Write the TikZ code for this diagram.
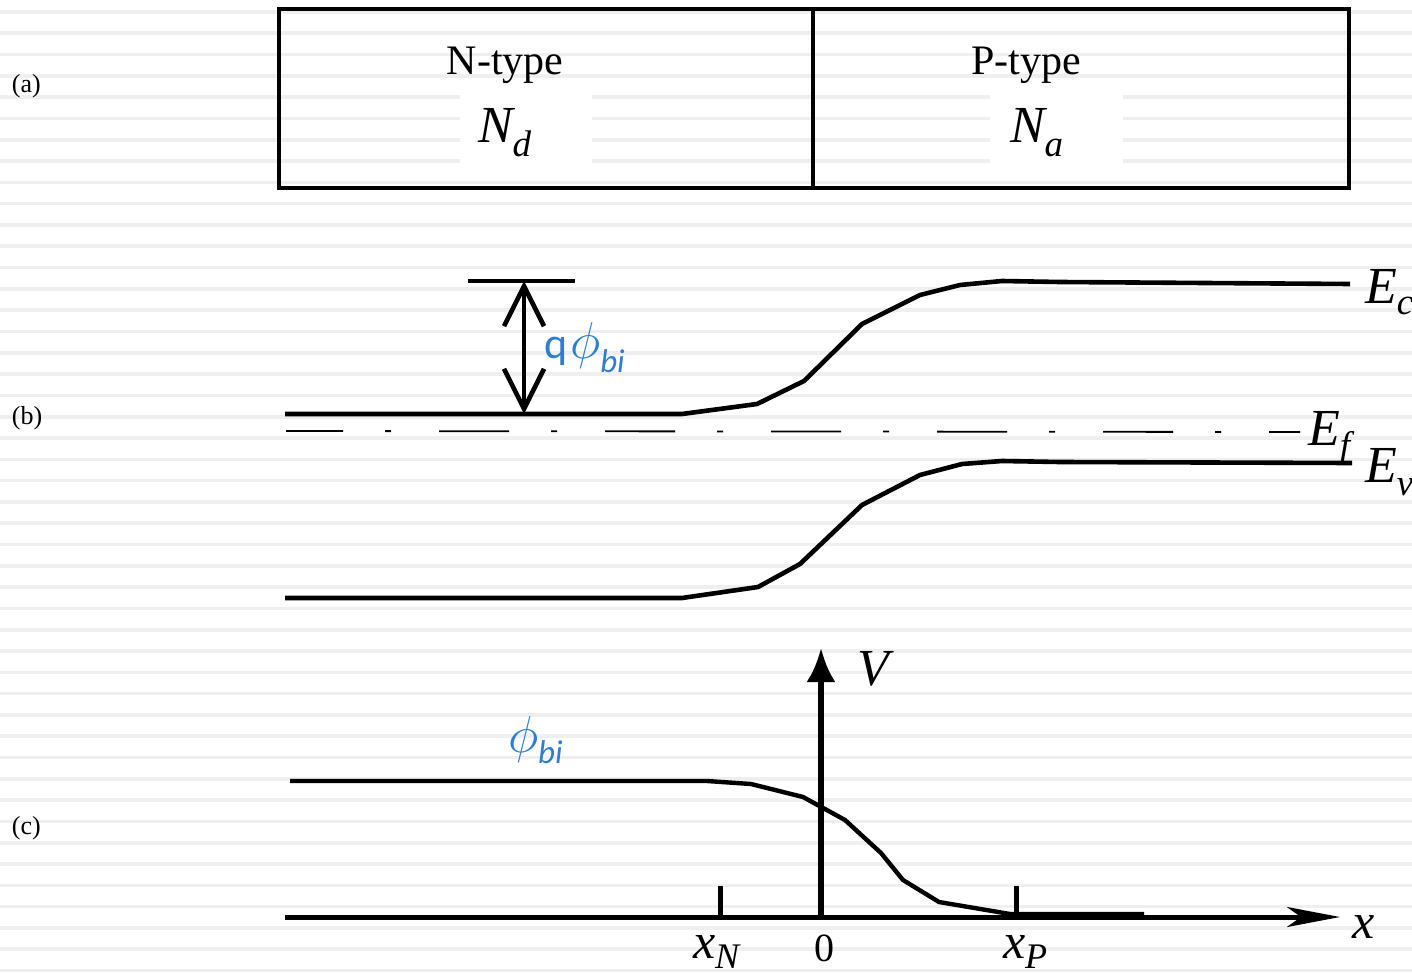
\RequirePackage{fix-cm}
\documentclass[tikz,border=0pt]{standalone}
\usepackage{fontspec}
\setmainfont{Liberation Serif}
\newfontfamily\calib{Carlito}
\usetikzlibrary{arrows.meta}
\definecolor{phblue}{RGB}{45,125,210}
\definecolor{stripecol}{RGB}{239,239,239}
\newcommand\fs[1]{\fontsize{#1}{#1}\selectfont}
% #1 main size, #2 sub size, #3 main letter, #4 subscript, #5 drop
\newcommand\isub[5]{{\fs{#1}\itshape #3\raisebox{-#5}{\fs{#2}#4}}}
\tikzset{
  lbl/.style={inner sep=0pt, outer sep=0pt, anchor=base west},
  regbox/.style={draw, line width=4.5pt, inner sep=0pt, minimum height=179pt},
  band/.style={line width=4.6pt, line join=round},
  axisline/.style={line width=5pt},
  tick/.style={line width=5pt},
  fermi/.style={line width=1.8pt, dash pattern=on 70pt off 42pt on 6pt off 48pt, dash phase=13pt},
}
\begin{document}
\begin{tikzpicture}[x=1pt,y=-1pt]
\useasboundingbox (0,0) rectangle (1412,973);
% background stripes
\foreach \k in {0,...,45}{
  \fill[stripecol] (0,{12+21.3*\k-1.8}) rectangle (1412,{12+21.3*\k+1.8});
}
% white patches behind doping labels
\fill[white] (460,93) rectangle (592,165);
\fill[white] (990,93) rectangle (1123,165);

% (a) regions
\node[regbox, minimum width=534pt] (nreg) at (546,98.5) {};
\node[regbox, minimum width=536pt] (preg) at (1081,98.5) {};
\node[lbl, anchor=base] (ntype) at (505,75) {\fs{42}N-type};
\node[lbl, anchor=base] (ptype) at (1026,75) {\fs{42}P-type};
\node[lbl] (nd) at (478,143) {\isub{52}{37}{N}{d}{14pt}};
\node[lbl] (na) at (1010,143) {\isub{52}{37}{N}{a}{14pt}};

% panel labels
\node[lbl] (la) at (12,93) {\fs{26}(a)};
\node[lbl] (lb) at (12,424) {\fs{26}(b)};
\node[lbl] (lc) at (12,834) {\fs{26}(c)};

% (b) band diagram
\draw[band] (285,414) coordinate (ecL) -- (682,414) -- (757,404) -- (804,381) -- (862,324)
  -- (920,295) -- (960,285) -- (1002,281) -- (1060,282) -- (1350,284) coordinate (ecR);
\draw[band] (285,598) coordinate (evL) -- (682,598) -- (758,587) -- (800,564) -- (862,505)
  -- (920,475) -- (962,464) -- (1002,461) -- (1060,462) -- (1352,463) coordinate (evR);
\coordinate (efL) at (286,431);
\coordinate (efR) at (1300,432);
\draw[fermi] (efL) -- (efR);

\node[lbl] (ec) at (1365,303) {\isub{52}{37}{E}{c}{11pt}};
\node[lbl] (ef) at (1308,445) {\isub{52}{37}{E}{f}{12pt}};
\node[lbl] (ev) at (1365,482) {\isub{52}{37}{E}{v}{13pt}};

% built-in potential arrow
\coordinate (barL) at (468,281);
\coordinate (barR) at (575,281);
\draw[line width=4.5pt] (barL) -- (barR);
\coordinate (qt) at (524,281);
\coordinate (qb) at (524,414);
\draw[line width=4.6pt, {Straight Barb[length=40pt,width=40pt]}-{Straight Barb[length=40pt,width=40pt]}] (qt) -- (qb);
\node[lbl, text=phblue] (qphi) at (544,358)
  {{\calib\fs{44}q}\kern3pt{\fs{52}$\phi$}\raisebox{-14pt}{\calib\itshape\fs{33}bi}};

% (c) potential
\coordinate (xo) at (285,917);
\coordinate (xend) at (1340,917);
\coordinate (vbot) at (821,917);
\coordinate (vtop) at (821,648);
\draw[axisline, -{Stealth[length=53pt,width=20pt,inset=14pt]}] (xo) -- (xend);
\draw[line width=6pt, -{Latex[length=34pt,width=29pt]}] (vbot) -- (vtop);
\coordinate (tnb) at (720,917);
\coordinate (tnt) at (720,886);
\coordinate (tpb) at (1016,917);
\coordinate (tpt) at (1016,886);
\draw[tick] (tnb) -- (tnt);
\draw[tick] (tpb) -- (tpt);

\draw[line width=4.4pt, line join=round] (290,781) -- (707,781) -- (751,784) -- (803,797) -- (845,820)
  -- (881,853) -- (903,880) -- (939,902) -- (1010,914) -- (1144,914);

\node[lbl, text=phblue] (phic) at (508,752)
  {{\fs{52}$\phi$}\raisebox{-11pt}{\calib\itshape\fs{33}bi}};

\node[lbl] (vlab) at (857,685) {\fs{52}\itshape V};
\node[lbl] (xlab) at (1352,938) {\fs{50}\itshape x};
\node[lbl] (xn) at (693,958) {\isub{50}{36}{x}{N}{10pt}};
\node[lbl, anchor=base] (zero) at (824,961) {\fs{40}0};
\node[lbl] (xp) at (1003,958) {\isub{50}{36}{x}{P}{10pt}};
\end{tikzpicture}
\end{document}
